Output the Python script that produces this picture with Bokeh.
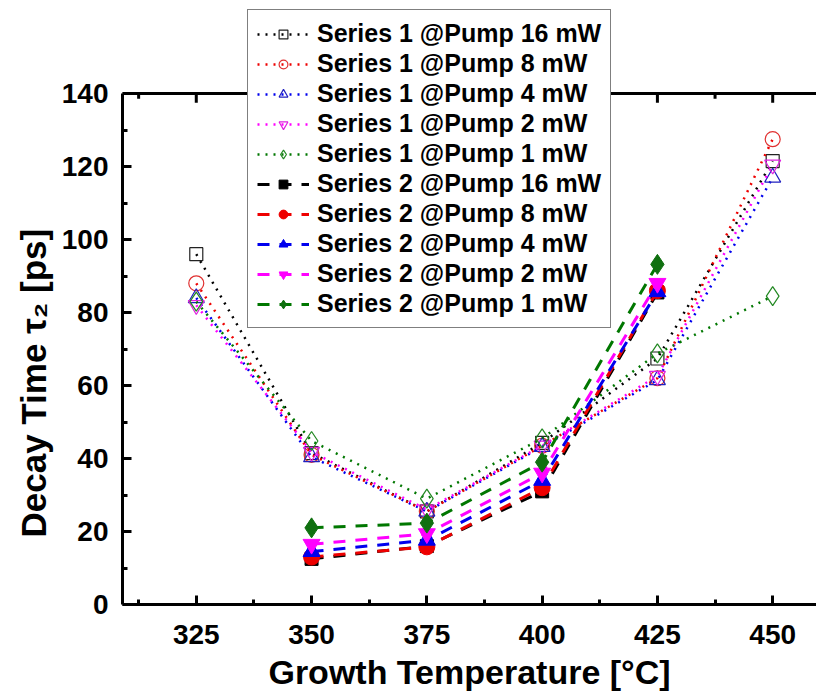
from bokeh.plotting import figure
from bokeh.models import Legend, LegendItem, FixedTicker, Span, Title
from bokeh.embed import file_html
from bokeh.resources import INLINE

temps1 = [325, 350, 375, 400, 425, 450]
temps2 = [350, 375, 400, 425]

pumps = ["16 mW", "8 mW", "4 mW", "2 mW", "1 mW"]

s1_16 = [96, 41.5, 25.5, 44.3, 67.4, 121.5]
s1_8 = [88, 41, 25.5, 43.5, 62, 127.5]
s1_4 = [84, 40.4, 25.5, 43.2, 61.5, 117]
s1_2 = [82, 41.8, 26, 43.5, 62.6, 120.5]
s1_1 = [83, 44.8, 29.0, 45.5, 68.8, 84.5]

s2_16 = [12.5, 16, 31, 85.5]
s2_8 = [13, 15.8, 32, 86]
s2_4 = [14.5, 17.6, 34, 85.7]
s2_2 = [16.5, 19.4, 36, 88]
s2_1 = [21, 22.3, 39, 93.2]

x_ticks = [325, 350, 375, 400, 425, 450]
x_minor = [312.5, 337.5, 362.5, 387.5, 412.5, 437.5, 462.5]
y_ticks = [0, 20, 40, 60, 80, 100, 120, 140]
y_minor = [10, 30, 50, 70, 90, 110, 130]

series1 = [s1_16, s1_8, s1_4, s1_2, s1_1]
series2 = [s2_16, s2_8, s2_4, s2_2, s2_1]

open_colors = ["#222222", "#e03030", "#2020c0", "#e020e0", "#228822"]
line_colors = ["#000000", "#ee0000", "#0000ee", "#ff00ff", "#007700"]
fill_colors = ["#000000", "#ee0000", "#0000ee", "#ff00ff", "#107010"]
markers = ["square", "circle", "triangle", "inverted_triangle", "diamond"]
open_sizes = [13, 15, 16, 16, 19]
fill_sizes = [13, 16, 17, 17, 20]

FONT = "Liberation Sans"
Y_TOP = 140

p = figure(width=816, height=693, x_range=(309, 459.5), y_range=(0, 165.5),
           output_backend="svg", toolbar_location=None,
           min_border_left=122, min_border_right=0, min_border_top=0,
           min_border_bottom=89)
p.xgrid.visible = False
p.ygrid.visible = False
p.outline_line_color = None

# top frame border and inward ticks
p.add_layout(Span(location=Y_TOP, dimension="width", line_color="black", line_width=3))
p.segment(x0=x_ticks, y0=[Y_TOP] * len(x_ticks), x1=x_ticks,
          y1=[Y_TOP - 2.5] * len(x_ticks), line_color="black", line_width=3)
p.segment(x0=x_minor, y0=[Y_TOP] * len(x_minor), x1=x_minor,
          y1=[Y_TOP - 1.4] * len(x_minor), line_color="black", line_width=3)

items = []
for i in range(5):
    r_l = p.line(temps1, series1[i], line_color=line_colors[i], line_width=2.5,
                 line_dash="2 6")
    r_s = p.scatter(temps1, series1[i], marker=markers[i], size=open_sizes[i],
                    line_color=open_colors[i], fill_alpha=0, line_width=1.2)
    items.append(LegendItem(label="Series 1 @Pump " + pumps[i], renderers=[r_l, r_s]))

for i in range(5):
    r_l = p.line(temps2, series2[i], line_color=line_colors[i], line_width=3,
                 line_dash="12 10")
    r_s = p.scatter(temps2, series2[i], marker=markers[i], size=fill_sizes[i],
                    line_color=fill_colors[i], fill_color=fill_colors[i], line_width=1)
    items.append(LegendItem(label="Series 2 @Pump " + pumps[i], renderers=[r_l, r_s]))

for ax in [p.xaxis[0], p.yaxis[0]]:
    ax.axis_line_width = 3
    ax.major_tick_line_width = 3
    ax.minor_tick_line_width = 3
    ax.major_tick_in = 9
    ax.major_tick_out = 0
    ax.minor_tick_in = 5
    ax.minor_tick_out = 0
    ax.major_label_text_font = FONT
    ax.major_label_text_font_style = "bold"
    ax.major_label_text_font_size = "28px"
    ax.major_label_text_color = "black"
    ax.axis_label_text_font = FONT
    ax.axis_label_text_font_style = "bold"
    ax.axis_label_text_font_size = "34px"
    ax.axis_label_text_color = "black"

p.xaxis.ticker = FixedTicker(ticks=x_ticks, minor_ticks=x_minor)
p.yaxis.ticker = FixedTicker(ticks=y_ticks, minor_ticks=y_minor)
p.yaxis.bounds = (0, Y_TOP)
p.xaxis.axis_label = "Growth Temperature [°C]"
p.xaxis.major_label_standoff = 20
p.xaxis.axis_label_standoff = 6
p.xaxis.major_label_text_line_height = 0.8
p.xaxis.axis_label_text_line_height = 0.7
p.yaxis.major_label_standoff = 14

ytitle = Title(text="Decay Time τ₂ [ps]", align="left", offset=67,
               text_font=FONT, text_font_style="bold", text_font_size="35px",
               text_color="black", standoff=12)
p.add_layout(ytitle, "left")

legend = Legend(items=items, location=(125, 276))
legend.label_text_font = FONT
legend.label_text_font_style = "bold"
legend.label_text_font_size = "25px"
legend.label_text_color = "black"
legend.glyph_width = 52
legend.glyph_height = 22
legend.label_height = 22
legend.spacing = 1
legend.padding = 9
legend.margin = 0
legend.label_standoff = 8
legend.border_line_color = "black"
legend.border_line_width = 1.5
legend.background_fill_color = "white"
legend.background_fill_alpha = 1
p.add_layout(legend, "center")

open("out.html", "w").write(file_html(p, INLINE))
